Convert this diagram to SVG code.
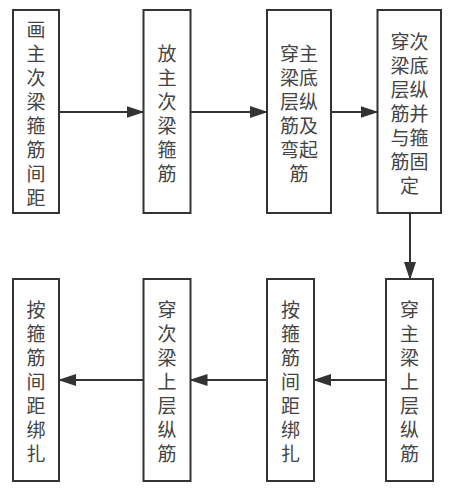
<svg xmlns="http://www.w3.org/2000/svg" width="450" height="499" viewBox="0 0 450 499">
<defs>
<style>
.box{fill:#fff;stroke:#333;stroke-width:2}
.lbl{font-family:"Noto Sans CJK SC","Noto Sans CJK JP",sans-serif;font-size:19px;fill:#444;text-anchor:middle;dominant-baseline:central}
.edge{stroke:#333;stroke-width:2;fill:none;marker-end:url(#ah)}
</style>
<marker id="ah" markerUnits="userSpaceOnUse" markerWidth="18" markerHeight="12" refX="17" refY="6" orient="auto">
<path d="M0,0 L18,6 L0,12 z" fill="#333"/>
</marker>
</defs>
<rect width="450" height="499" fill="#fff"/>
<g id="connectors">
<line class="edge" x1="59" y1="112" x2="143.5" y2="112"/>
<line class="edge" x1="190.5" y1="112" x2="267" y2="112"/>
<line class="edge" x1="331" y1="112" x2="377.5" y2="112"/>
<line class="edge" x1="410" y1="213" x2="410" y2="279"/>
<line class="edge" x1="386" y1="380" x2="314" y2="380"/>
<line class="edge" x1="267" y1="380" x2="190.5" y2="380"/>
<line class="edge" x1="143.5" y1="380" x2="59" y2="380"/>
</g>
<g id="n1">
<rect class="box" x="13" y="10" width="46" height="203"/>
<text class="lbl"><tspan x="36" y="27.5">画</tspan><tspan x="36" y="51.5">主</tspan><tspan x="36" y="75.5">次</tspan><tspan x="36" y="99.5">梁</tspan><tspan x="36" y="123.5">箍</tspan><tspan x="36" y="147.5">筋</tspan><tspan x="36" y="171.5">间</tspan><tspan x="36" y="195.5">距</tspan></text>
</g>
<g id="n2">
<rect class="box" x="143.5" y="10" width="47" height="203"/>
<text class="lbl"><tspan x="167" y="51.5">放</tspan><tspan x="167" y="75.5">主</tspan><tspan x="167" y="99.5">次</tspan><tspan x="167" y="123.5">梁</tspan><tspan x="167" y="147.5">箍</tspan><tspan x="167" y="171.5">筋</tspan></text>
</g>
<g id="n3">
<rect class="box" x="267" y="10" width="64" height="203"/>
<text class="lbl"><tspan x="299" y="51.5">穿主</tspan><tspan x="299" y="75.5">梁底</tspan><tspan x="299" y="99.5">层纵</tspan><tspan x="299" y="123.5">筋及</tspan><tspan x="299" y="147.5">弯起</tspan><tspan x="299" y="171.5">筋</tspan></text>
</g>
<g id="n4">
<rect class="box" x="377.5" y="10" width="63.5" height="203"/>
<text class="lbl"><tspan x="409.5" y="39.5">穿次</tspan><tspan x="409.5" y="63.5">梁底</tspan><tspan x="409.5" y="87.5">层纵</tspan><tspan x="409.5" y="111.5">筋并</tspan><tspan x="409.5" y="135.5">与箍</tspan><tspan x="409.5" y="159.5">筋固</tspan><tspan x="409.5" y="183.5">定</tspan></text>
</g>
<g id="n5">
<rect class="box" x="386" y="279" width="47" height="202"/>
<text class="lbl"><tspan x="409.5" y="308">穿</tspan><tspan x="409.5" y="332">主</tspan><tspan x="409.5" y="356">梁</tspan><tspan x="409.5" y="380">上</tspan><tspan x="409.5" y="404">层</tspan><tspan x="409.5" y="428">纵</tspan><tspan x="409.5" y="452">筋</tspan></text>
</g>
<g id="n6">
<rect class="box" x="267" y="279" width="47" height="202"/>
<text class="lbl"><tspan x="290.5" y="308">按</tspan><tspan x="290.5" y="332">箍</tspan><tspan x="290.5" y="356">筋</tspan><tspan x="290.5" y="380">间</tspan><tspan x="290.5" y="404">距</tspan><tspan x="290.5" y="428">绑</tspan><tspan x="290.5" y="452">扎</tspan></text>
</g>
<g id="n7">
<rect class="box" x="143.5" y="279" width="47" height="202"/>
<text class="lbl"><tspan x="167" y="308">穿</tspan><tspan x="167" y="332">次</tspan><tspan x="167" y="356">梁</tspan><tspan x="167" y="380">上</tspan><tspan x="167" y="404">层</tspan><tspan x="167" y="428">纵</tspan><tspan x="167" y="452">筋</tspan></text>
</g>
<g id="n8">
<rect class="box" x="13" y="279" width="46" height="202"/>
<text class="lbl"><tspan x="36" y="308">按</tspan><tspan x="36" y="332">箍</tspan><tspan x="36" y="356">筋</tspan><tspan x="36" y="380">间</tspan><tspan x="36" y="404">距</tspan><tspan x="36" y="428">绑</tspan><tspan x="36" y="452">扎</tspan></text>
</g>
</svg>
